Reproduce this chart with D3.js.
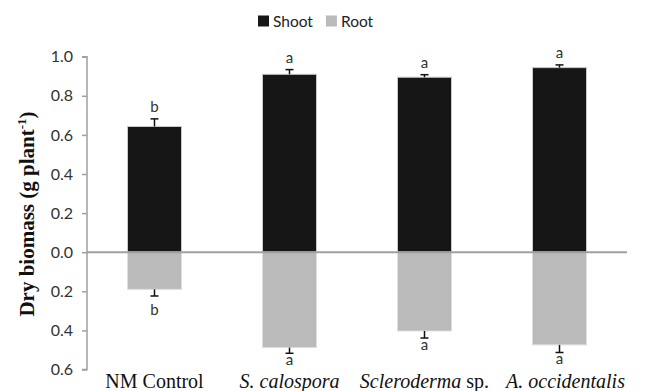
<!DOCTYPE html>
<html>
<head>
<meta charset="utf-8">
<script src="https://cdn.jsdelivr.net/npm/d3@7.9.0/dist/d3.min.js"></script>
<style>
  body { margin: 0; background: #fff; }
  svg { display: block; }
  .tick text { font-family: Lato, "Open Sans", sans-serif; font-size: 16px; fill: #333; }
  .sig { font-family: Lato, "Open Sans", sans-serif; font-size: 15px; fill: #333; }
</style>
</head>
<body>
<svg width="651" height="391"></svg>
<script>
// data
const groups = ['NM Control', 'S. calospora', 'Scleroderma sp.', 'A. occidentalis'];
const shoot = [0.643, 0.910, 0.895, 0.944];
const shootErr = [0.039, 0.024, 0.013, 0.014];
const shootSig = ['b', 'a', 'a', 'a'];
const root = [0.190, 0.488, 0.403, 0.474];
const rootErr = [0.034, 0.029, 0.036, 0.039];
const rootSig = ['b', 'a', 'a', 'a'];
const yTicks = [-0.6, -0.4, -0.2, 0.0, 0.2, 0.4, 0.6, 0.8, 1.0];

const shootColor = '#161616';
const rootColor = '#bababa';
const axisColor = '#a0a0a0';

const svg = d3.select('svg');

const x = d3.scaleBand()
  .domain(groups)
  .range([87, 627])
  .paddingInner(0.6)
  .paddingOuter(0.3);

const y = d3.scaleLinear()
  .domain([-0.6, 1.0])
  .range([369.5, 56.7]);

// y axis
const yAxis = svg.append('g')
  .attr('transform', `translate(${x.range()[0]},0)`)
  .call(d3.axisLeft(y).tickValues(yTicks).tickSize(5).tickPadding(9)
    .tickFormat(d => Math.abs(d).toFixed(1)));
yAxis.selectAll('path, line').attr('stroke', axisColor).attr('stroke-width', 1.5);
yAxis.select('.domain').attr('d', `M-5,${y(1.0)}H0V${y(-0.6)}H-5`);

// shoot bars (up)
svg.append('g').selectAll('rect')
  .data(groups)
  .join('rect')
  .attr('x', d => x(d))
  .attr('width', x.bandwidth())
  .attr('y', (d, i) => y(shoot[i]))
  .attr('height', (d, i) => y(0) - y(shoot[i]))
  .attr('fill', shootColor)
  .attr('stroke', '#c8c8c8')
  .attr('stroke-width', 1);

// root bars (down)
svg.append('g').selectAll('rect')
  .data(groups)
  .join('rect')
  .attr('x', d => x(d))
  .attr('width', x.bandwidth())
  .attr('y', y(0))
  .attr('height', (d, i) => y(-root[i]) - y(0))
  .attr('fill', rootColor)
  .attr('stroke', '#dedede')
  .attr('stroke-width', 1);

// zero line
svg.append('line')
  .attr('x1', x.range()[0]).attr('x2', x.range()[1])
  .attr('y1', y(0)).attr('y2', y(0))
  .attr('stroke', axisColor).attr('stroke-width', 2);

// error bars
const cx = d => x(d) + x.bandwidth() / 2;
const err = svg.append('g').attr('stroke', '#111').attr('stroke-width', 1.5);
groups.forEach((g, i) => {
  const top = y(shoot[i] + shootErr[i]);
  err.append('line').attr('x1', cx(g)).attr('x2', cx(g)).attr('y1', y(shoot[i])).attr('y2', top);
  err.append('line').attr('x1', cx(g) - 4).attr('x2', cx(g) + 4).attr('y1', top).attr('y2', top);
  const bot = y(-(root[i] + rootErr[i]));
  err.append('line').attr('x1', cx(g)).attr('x2', cx(g)).attr('y1', y(-root[i])).attr('y2', bot);
  err.append('line').attr('x1', cx(g) - 4).attr('x2', cx(g) + 4).attr('y1', bot).attr('y2', bot);
});

// significance letters
svg.append('g').selectAll('text')
  .data(groups)
  .join('text')
  .attr('class', 'sig')
  .attr('text-anchor', 'middle')
  .attr('x', cx)
  .attr('y', (d, i) => y(shoot[i] + shootErr[i]) - 7)
  .text((d, i) => shootSig[i]);
svg.append('g').selectAll('text')
  .data(groups)
  .join('text')
  .attr('class', 'sig')
  .attr('text-anchor', 'middle')
  .attr('x', cx)
  // letters hang below the cap; 'b' has an ascender so it needs more room
  .attr('y', (d, i) => y(-(root[i] + rootErr[i])) + (rootSig[i] === 'b' ? 19 : 12))
  .text((d, i) => rootSig[i]);

// category labels (serif, species in italics)
const catParts = [
  [['NM Control', 'normal']],
  [['S. calospora', 'italic']],
  [['Scleroderma', 'italic'], [' sp.', 'normal']],
  [['A. occidentalis', 'italic']]
];
const catLabels = svg.append('g')
  .attr('font-family', '"Liberation Serif", "Times New Roman", serif')
  .attr('font-size', 20)
  .attr('fill', '#111');
groups.forEach((g, i) => {
  const t = catLabels.append('text')
    .attr('x', cx(g) + (i === 3 ? 6 : 0))
    .attr('y', 388)
    .attr('text-anchor', 'middle');
  catParts[i].forEach(([s, style]) => t.append('tspan').attr('font-style', style).text(s));
});

// y axis title
const yt = svg.append('text')
  .attr('transform', 'translate(34,214) rotate(-90)')
  .attr('text-anchor', 'middle')
  .attr('font-family', '"Liberation Serif", "Times New Roman", serif')
  .attr('font-weight', 'bold')
  .attr('font-size', 21)
  .attr('fill', '#111');
yt.append('tspan').text('Dry biomass (g plant');
yt.append('tspan').attr('font-size', 13).attr('dy', -8).text('-1');
yt.append('tspan').attr('dy', 8).text(')');

// legend
const legendItems = [['Shoot', shootColor], ['Root', rootColor]];
const legend = svg.append('g')
  .attr('font-family', 'Lato, "Open Sans", sans-serif')
  .attr('font-size', 15.5)
  .attr('fill', '#222');
let lx = 258;
legendItems.forEach(([name, color]) => {
  legend.append('rect').attr('x', lx).attr('y', 15.5).attr('width', 11).attr('height', 11).attr('fill', color);
  const t = legend.append('text').attr('x', lx + 15).attr('y', 27).text(name);
  lx += 15 + t.node().getComputedTextLength() + 13;
});
</script>
</body>
</html>
